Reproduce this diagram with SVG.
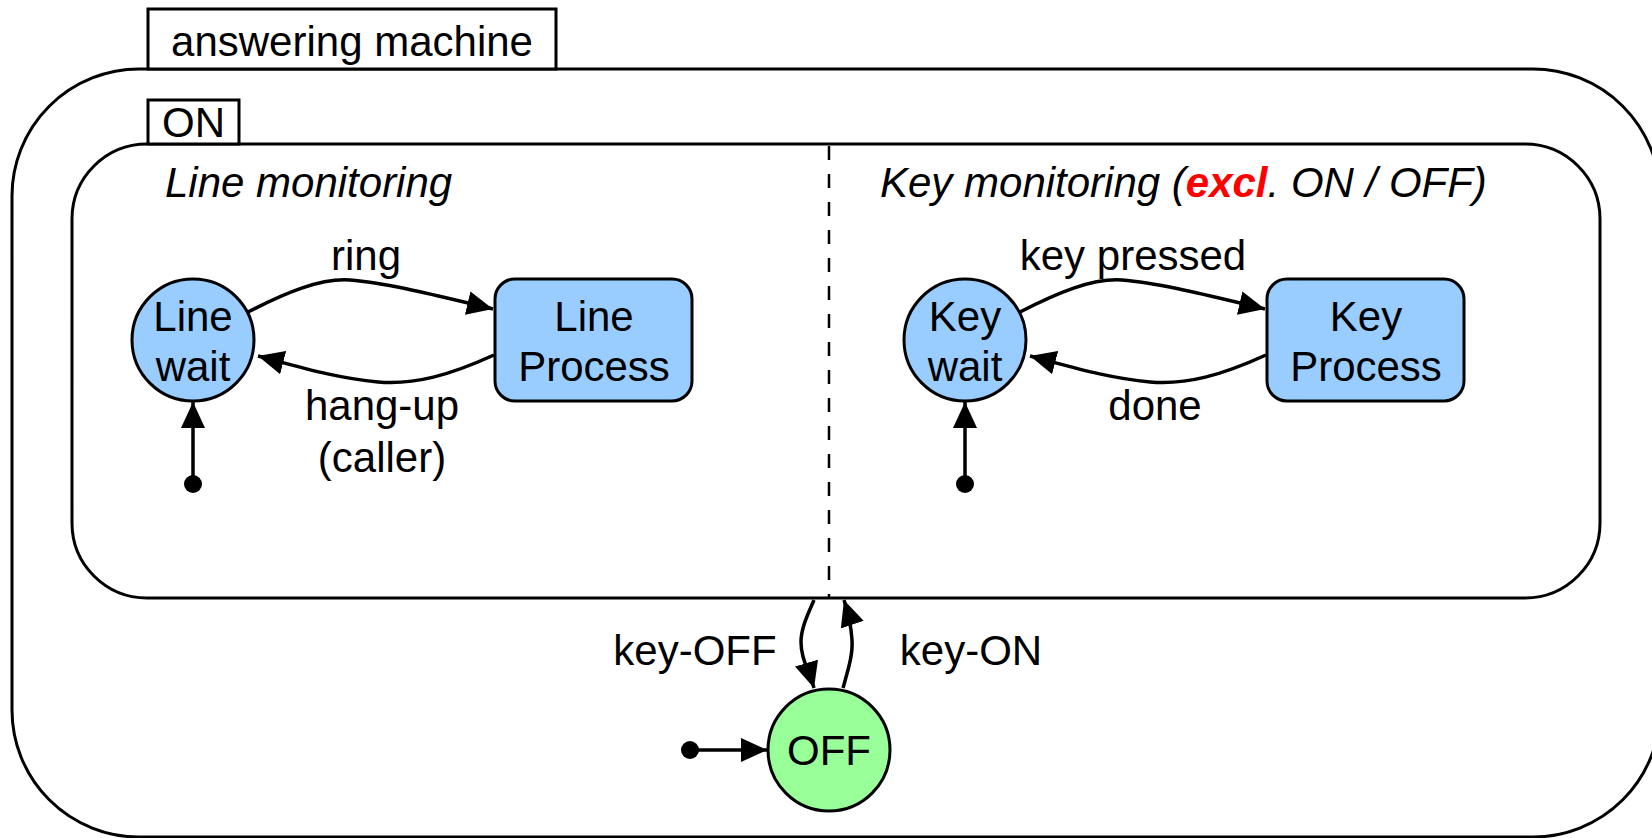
<svg xmlns="http://www.w3.org/2000/svg" width="1652" height="838" viewBox="0 0 1652 838">
<style>
.frame{fill:#fff;stroke:#000;stroke-width:3}
.lbl{font-family:"Liberation Sans",Arial,sans-serif;font-size:42px;fill:#000}
.mid{text-anchor:middle}
.it{font-style:italic}
.st{fill:#99ccff;stroke:#000;stroke-width:3}
.off{fill:#99ff99;stroke:#000;stroke-width:3}
.edge{fill:none;stroke:#000;stroke-width:3.5;marker-end:url(#arr)}
.dot{fill:#000}
</style>
<defs>
<marker id="arr" markerUnits="userSpaceOnUse" markerWidth="27" markerHeight="25" refX="26" refY="12" orient="auto">
<path d="M0,0 L26,12 L0,24 z" fill="#000"/>
</marker>
</defs>
<g id="answering-machine">
<rect class="frame" x="12" y="69" width="1648" height="768" rx="127" ry="127"/>
<rect class="frame" x="148" y="9" width="408" height="60"/>
<text class="lbl mid" x="352" y="56">answering machine</text>
</g>
<g id="on-state">
<rect class="frame" x="72" y="144" width="1528" height="454" rx="75" ry="75"/>
<rect class="frame" x="148" y="100" width="91" height="44"/>
<text class="lbl mid" x="193.5" y="137">ON</text>
<line x1="829" y1="146" x2="829" y2="598" stroke="#000" stroke-width="2.5" stroke-dasharray="14,14"/>
<text class="lbl it" x="165" y="197">Line monitoring</text>
<text class="lbl it" x="880" y="197">Key monitoring (<tspan font-weight="bold" fill="#ff0000">excl</tspan>. ON / OFF)</text>
</g>
<g id="line-wait">
<circle class="st" cx="193" cy="340" r="61"/>
<text class="lbl mid" x="193" y="331">Line</text>
<text class="lbl mid" x="193" y="381">wait</text>
</g>
<g id="line-process">
<rect class="st" x="495" y="279" width="197" height="122" rx="20" ry="20"/>
<text class="lbl mid" x="594" y="331">Line</text>
<text class="lbl mid" x="594" y="381">Process</text>
</g>
<g id="key-wait">
<circle class="st" cx="965" cy="340" r="61"/>
<text class="lbl mid" x="965" y="331">Key</text>
<text class="lbl mid" x="965" y="381">wait</text>
</g>
<g id="key-process">
<rect class="st" x="1267" y="279" width="197" height="122" rx="20" ry="20"/>
<text class="lbl mid" x="1366" y="331">Key</text>
<text class="lbl mid" x="1366" y="381">Process</text>
</g>
<g id="off">
<circle class="off" cx="829" cy="750" r="61"/>
<text class="lbl mid" x="829" y="765">OFF</text>
</g>
<g id="init-line"><circle class="dot" cx="193" cy="484" r="9"/></g>
<g id="init-key"><circle class="dot" cx="965" cy="484" r="9"/></g>
<g id="init-off"><circle class="dot" cx="690" cy="750" r="9"/></g>
<g id="connectors">
<path class="edge" d="M248,312 C285,293 320,278 350,280 C390,283 450,299 493,309"/>
<path class="edge" d="M494,355 C450,375 415,385 378,382 C335,378 300,367 258,356"/>
<path class="edge" d="M193,484 L193,402"/>
<path class="edge" d="M1020,312 C1057,293 1092,278 1122,280 C1162,283 1222,299 1265,309"/>
<path class="edge" d="M1266,355 C1222,375 1187,385 1150,382 C1107,378 1072,367 1030,356"/>
<path class="edge" d="M965,484 L965,402"/>
<path class="edge" d="M690,750 L767,750"/>
<path class="edge" d="M814,600 C808,614 801,628 801,642 C801,658 808,668 814,688"/>
<path class="edge" d="M843,688 C848,670 853,655 852,640 C851,625 848,612 844,600"/>
<text class="lbl mid" x="366" y="270">ring</text>
<text class="lbl mid" x="382" y="420">hang-up</text>
<text class="lbl mid" x="382" y="472">(caller)</text>
<text class="lbl mid" x="1133" y="270">key pressed</text>
<text class="lbl mid" x="1155" y="420">done</text>
<text class="lbl mid" x="695" y="665">key-OFF</text>
<text class="lbl mid" x="971" y="665">key-ON</text>
</g>
</svg>
